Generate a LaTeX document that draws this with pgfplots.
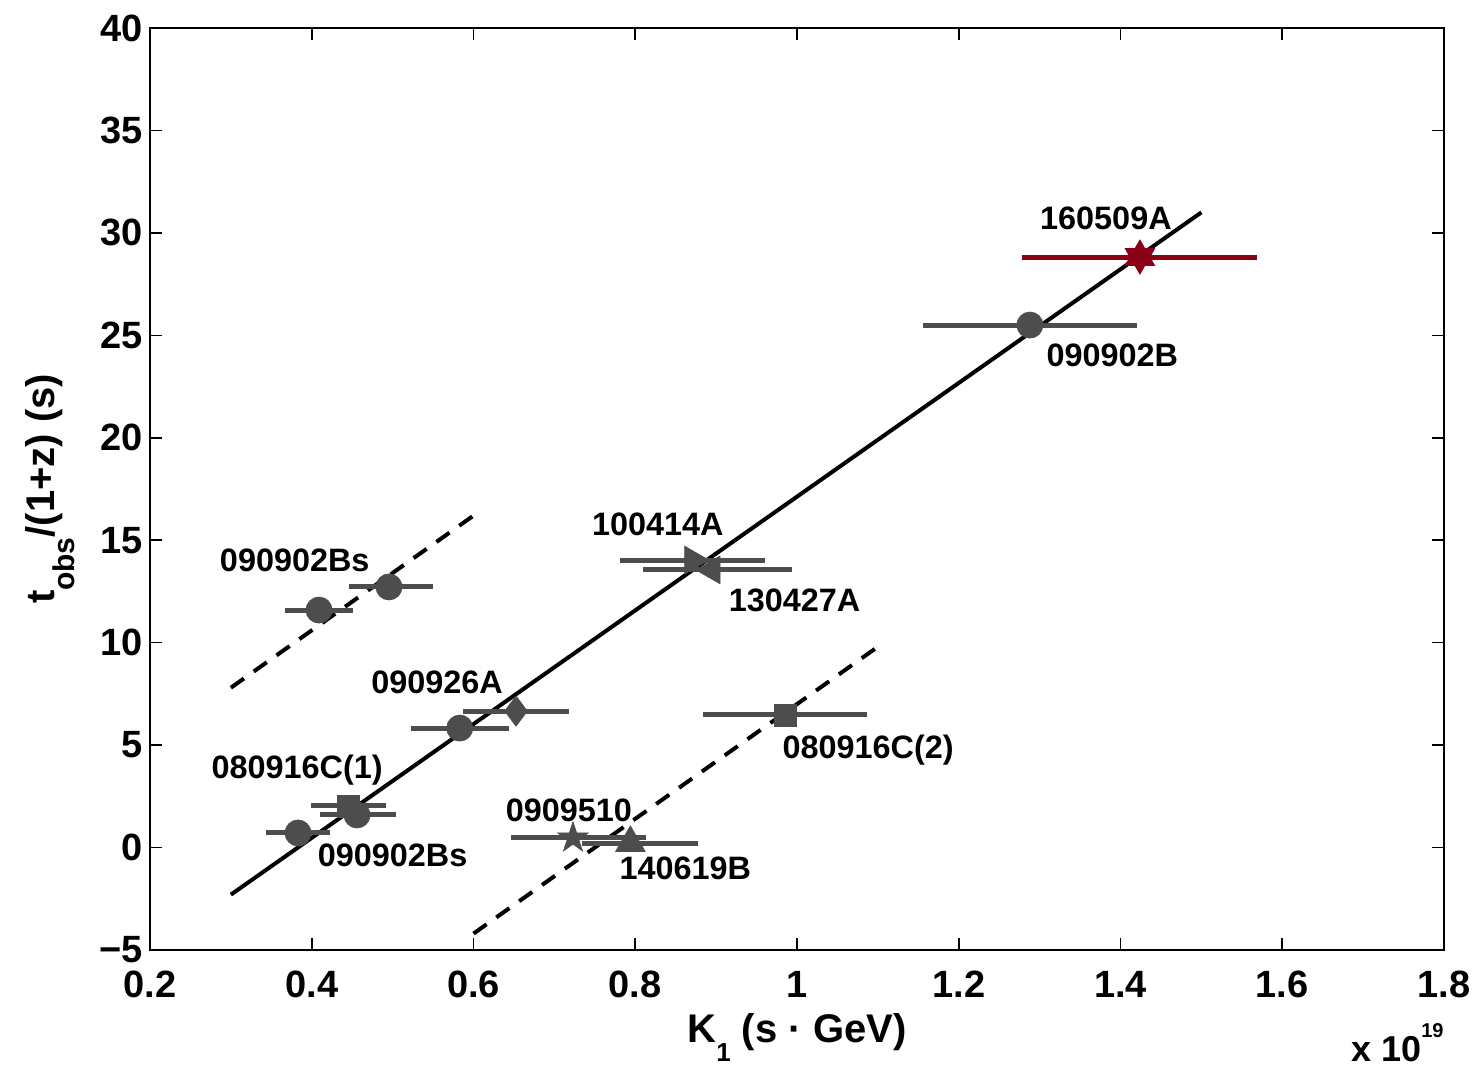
\documentclass[border=0pt]{standalone}
\usepackage{pgfplots}
\usepackage{pgfplotstable}
\pgfplotsset{compat=1.18}
\usepackage{fontspec}
\setmainfont{Liberation Sans}
\definecolor{gr}{HTML}{4D4D4D}
\definecolor{dred}{HTML}{8B0016}

\pgfdeclareplotmark{hexstar*}{%
  \pgfpathmoveto{\pgfpointpolar{90}{\pgfplotmarksize}}%
  \pgfpathlineto{\pgfpointpolar{120}{0.577\pgfplotmarksize}}%
  \pgfpathlineto{\pgfpointpolar{150}{\pgfplotmarksize}}%
  \pgfpathlineto{\pgfpointpolar{180}{0.577\pgfplotmarksize}}%
  \pgfpathlineto{\pgfpointpolar{210}{\pgfplotmarksize}}%
  \pgfpathlineto{\pgfpointpolar{240}{0.577\pgfplotmarksize}}%
  \pgfpathlineto{\pgfpointpolar{270}{\pgfplotmarksize}}%
  \pgfpathlineto{\pgfpointpolar{300}{0.577\pgfplotmarksize}}%
  \pgfpathlineto{\pgfpointpolar{330}{\pgfplotmarksize}}%
  \pgfpathlineto{\pgfpointpolar{0}{0.577\pgfplotmarksize}}%
  \pgfpathlineto{\pgfpointpolar{30}{\pgfplotmarksize}}%
  \pgfpathlineto{\pgfpointpolar{60}{0.577\pgfplotmarksize}}%
  \pgfpathclose\pgfusepathqfillstroke}
\pgfdeclareplotmark{pentstar*}{%
  \pgfpathmoveto{\pgfpointpolar{90}{\pgfplotmarksize}}%
  \pgfpathlineto{\pgfpointpolar{126}{0.382\pgfplotmarksize}}%
  \pgfpathlineto{\pgfpointpolar{162}{\pgfplotmarksize}}%
  \pgfpathlineto{\pgfpointpolar{198}{0.382\pgfplotmarksize}}%
  \pgfpathlineto{\pgfpointpolar{234}{\pgfplotmarksize}}%
  \pgfpathlineto{\pgfpointpolar{270}{0.382\pgfplotmarksize}}%
  \pgfpathlineto{\pgfpointpolar{306}{\pgfplotmarksize}}%
  \pgfpathlineto{\pgfpointpolar{342}{0.382\pgfplotmarksize}}%
  \pgfpathlineto{\pgfpointpolar{18}{\pgfplotmarksize}}%
  \pgfpathlineto{\pgfpointpolar{54}{0.382\pgfplotmarksize}}%
  \pgfpathclose\pgfusepathqfillstroke}

\pgfplotstableread{
x y em ep
1.288 25.50 0.132 0.132
0.4955 12.72 0.050 0.054
0.409 11.59 0.042 0.042
0.583 5.83 0.060 0.061
0.456 1.59 0.046 0.048
0.383 0.71 0.040 0.040
}\circles
\pgfplotstableread{
x y em ep
0.6526 6.66 0.066 0.066
}\diamonds
\pgfplotstableread{
x y em ep
0.986 6.47 0.102 0.101
0.445 2.03 0.046 0.047
}\squares
\pgfplotstableread{
x y em ep
0.871 14.03 0.090 0.089
}\triright
\pgfplotstableread{
x y em ep
0.895 13.55 0.085 0.099
}\trileft
\pgfplotstableread{
x y em ep
0.723 0.47 0.077 0.090
}\pstars
\pgfplotstableread{
x y em ep
0.794 0.22 0.060 0.084
}\triup
\pgfplotstableread{
x y em ep
1.424 28.82 0.146 0.145
}\hstars

\begin{document}
\begin{tikzpicture}
\useasboundingbox (-75pt,-62pt) rectangle (664.5pt,475pt);
\begin{axis}[name=ax, at={(0pt,0pt)}, anchor=south west,
  scale only axis, width=647pt, height=461pt,
  xmin=0.2, xmax=1.8, ymin=-5, ymax=40,
  xtick={0.2,0.4,0.6,0.8,1,1.2,1.4,1.6,1.8},
  xticklabels={0.2,0.4,0.6,0.8,1,1.2,1.4,1.6,1.8},
  ytick={-5,0,5,10,15,20,25,30,35,40},
  yticklabels={−5,0,5,10,15,20,25,30,35,40},
  tick align=inside, major tick length=6pt,
  axis line style={line width=0.8pt},
  every tick/.style={black, line width=0.8pt},
  ticklabel style={font=\bfseries\fontsize{19}{21}\selectfont},
  xticklabel style={yshift=-7pt},
  clip=false,
  error bars/error bar style={line width=2.5pt},
]
\addplot[black, line width=2pt] coordinates {(0.3,-2.3) (1.5,31.0)};
\addplot[black, line width=2pt, dash pattern=on 8pt off 6pt] coordinates {(0.3,7.8) (0.6,16.2)};
\addplot[black, line width=2pt, dash pattern=on 8pt off 6pt] coordinates {(0.6,-4.2) (1.1,9.8)};

\addplot[gr, only marks, mark=*, mark size=6.5pt, error bars/.cd, x dir=both, x explicit, error mark=none]
  table[x=x, y=y, x error minus=em, x error plus=ep] {\circles};
\addplot[gr, only marks, mark=diamond*, mark size=7.5pt, error bars/.cd, x dir=both, x explicit, error mark=none]
  table[x=x, y=y, x error minus=em, x error plus=ep] {\diamonds};
\addplot[gr, only marks, mark=square*, mark size=5.5pt, error bars/.cd, x dir=both, x explicit, error mark=none]
  table[x=x, y=y, x error minus=em, x error plus=ep] {\squares};
\addplot[gr, only marks, mark=triangle*, mark size=8pt, mark options={rotate=-90}, error bars/.cd, x dir=both, x explicit, error mark=none]
  table[x=x, y=y, x error minus=em, x error plus=ep] {\triright};
\addplot[gr, only marks, mark=triangle*, mark size=8pt, mark options={rotate=90}, error bars/.cd, x dir=both, x explicit, error mark=none]
  table[x=x, y=y, x error minus=em, x error plus=ep] {\trileft};
\addplot[gr, only marks, mark=pentstar*, mark size=8pt, error bars/.cd, x dir=both, x explicit, error mark=none]
  table[x=x, y=y, x error minus=em, x error plus=ep] {\pstars};
\addplot[gr, only marks, mark=triangle*, mark size=8.5pt, error bars/.cd, x dir=both, x explicit, error mark=none]
  table[x=x, y=y, x error minus=em, x error plus=ep] {\triup};
\addplot[dred, only marks, mark=hexstar*, mark size=8.5pt, error bars/.cd, x dir=both, x explicit, error mark=none]
  table[x=x, y=y, x error minus=em, x error plus=ep] {\hstars};

\begin{scope}[every node/.style={font=\bfseries\fontsize{16.2}{18}\selectfont, inner sep=0pt}]
\node at (axis cs:1.382,30.72) {160509A};
\node at (axis cs:1.39,24.04) {090902B};
\node at (axis cs:0.828,15.79) {100414A};
\node at (axis cs:0.997,12.08) {130427A};
\node at (axis cs:0.379,14.03) {090902Bs};
\node at (axis cs:0.555,8.08) {090926A};
\node at (axis cs:1.088,4.76) {080916C(2)};
\node at (axis cs:0.382,3.78) {080916C(1)};
\node at (axis cs:0.500,-0.36) {090902Bs};
\node at (axis cs:0.718,1.83) {0909510};
\node at (axis cs:0.862,-1.0) {140619B};
\end{scope}
\end{axis}
\node[anchor=base, inner sep=0pt, font=\bfseries\fontsize{20}{22}\selectfont] at ([yshift=-46.5pt]ax.south) {K\raisebox{-9.5pt}{\fontsize{13}{13}\selectfont 1} (s · GeV)};
\node[anchor=base, rotate=90, inner sep=0pt, font=\bfseries\fontsize{20}{22}\selectfont] at ([xshift=-47.5pt]ax.west) {t\raisebox{-10pt}{\fontsize{15}{15}\selectfont obs}/(1+z) (s)};
\node[anchor=base east, inner sep=0pt, font=\bfseries\fontsize{18}{20}\selectfont] at ([yshift=-56pt]ax.south east) {x 10\raisebox{12pt}{\fontsize{10}{10}\selectfont 19}};
\end{tikzpicture}
\end{document}
